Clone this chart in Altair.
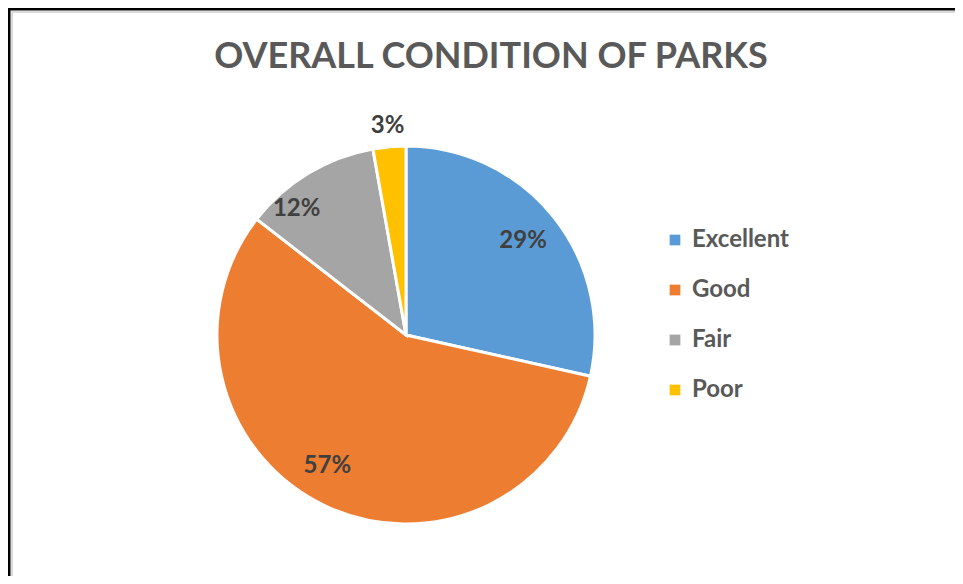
import altair as alt
import pandas as pd

categories = ["Excellent", "Good", "Fair", "Poor"]
values = [28.5, 57.0, 11.7, 2.8]
labels = ["29%", "57%", "12%", "3%"]
colors = ["#5B9BD5", "#ED7D31", "#A5A5A5", "#FFC000"]

df = pd.DataFrame({"cat": categories, "value": values, "label": labels,
                   "order": list(range(len(categories)))})
total = float(sum(values))

W, H = 947, 568
CX, CY, R = 398, 327, 189
FONT = "Lato"

base = alt.Chart(df)
theta_scale = alt.Scale(domain=[0, total])

pie = base.mark_arc(outerRadius=R, stroke="white", strokeWidth=3).encode(
    x=alt.value(CX), y=alt.value(CY),
    theta=alt.Theta("value:Q", stack=True, scale=theta_scale),
    color=alt.Color("cat:N", sort=categories,
                    scale=alt.Scale(domain=categories, range=colors),
                    legend=alt.Legend(title=None, orient="none", legendX=655, legendY=220,
                                      symbolType="square", symbolSize=115, symbolStrokeWidth=0,
                                      labelFont=FONT, labelFontSize=24, labelFontWeight="bold",
                                      labelColor="#595959", labelOffset=5, rowPadding=26,
                                      padding=0)),
    order=alt.Order("order:Q"),
)

label_base = base.transform_window(
    cum="sum(value)", sort=[alt.SortField("order")], frame=[None, 0]
).transform_calculate(mid="datum.cum - datum.value / 2")

# label placement style per category: (radius, theta offset in radians)
label_style = {"Excellent": (150, 0.0), "Good": (153, 0.10), "Fair": (167, -0.17), "Poor": (210, 0.0)}

layers = [pie]
for cat in categories:
    rad, toff = label_style[cat]
    layers.append(
        label_base.transform_filter(alt.datum.cat == cat).mark_text(
            radius=rad, thetaOffset=toff, font=FONT, fontSize=24, fontWeight="bold",
            color="#404040", align="center", baseline="middle"
        ).encode(
            x=alt.value(CX), y=alt.value(CY),
            theta=alt.Theta("mid:Q", stack=None, scale=theta_scale),
            text="label:N",
        )
    )

title = alt.Chart(pd.DataFrame({"t": ["OVERALL CONDITION OF PARKS"]})).mark_text(
    font=FONT, fontSize=36, fontWeight="bold", color="#595959", align="center", baseline="alphabetic"
).encode(x=alt.value(483), y=alt.value(60), text="t:N")

frame_left = alt.Chart(pd.DataFrame({"a": [0]})).mark_rule(color="black", strokeWidth=3).encode(
    x=alt.value(1), y=alt.value(0), y2=alt.value(H))
frame_top = alt.Chart(pd.DataFrame({"a": [0]})).mark_rule(color="black", strokeWidth=3).encode(
    y=alt.value(1), x=alt.value(0), x2=alt.value(W))
inner_left = alt.Chart(pd.DataFrame({"a": [0]})).mark_rule(color="#D9D9D9", strokeWidth=2).encode(
    x=alt.value(4), y=alt.value(3), y2=alt.value(H))
inner_top = alt.Chart(pd.DataFrame({"a": [0]})).mark_rule(color="#D9D9D9", strokeWidth=2).encode(
    y=alt.value(4), x=alt.value(3), x2=alt.value(W))

chart = alt.layer(inner_left, inner_top, frame_left, frame_top, *layers, title).properties(
    width=W, height=H, padding=0, autosize=alt.AutoSizeParams(type="none"),
    background="white",
).configure_view(stroke=None)

chart.save("out.html", embed_options={"renderer": "svg", "actions": False})
